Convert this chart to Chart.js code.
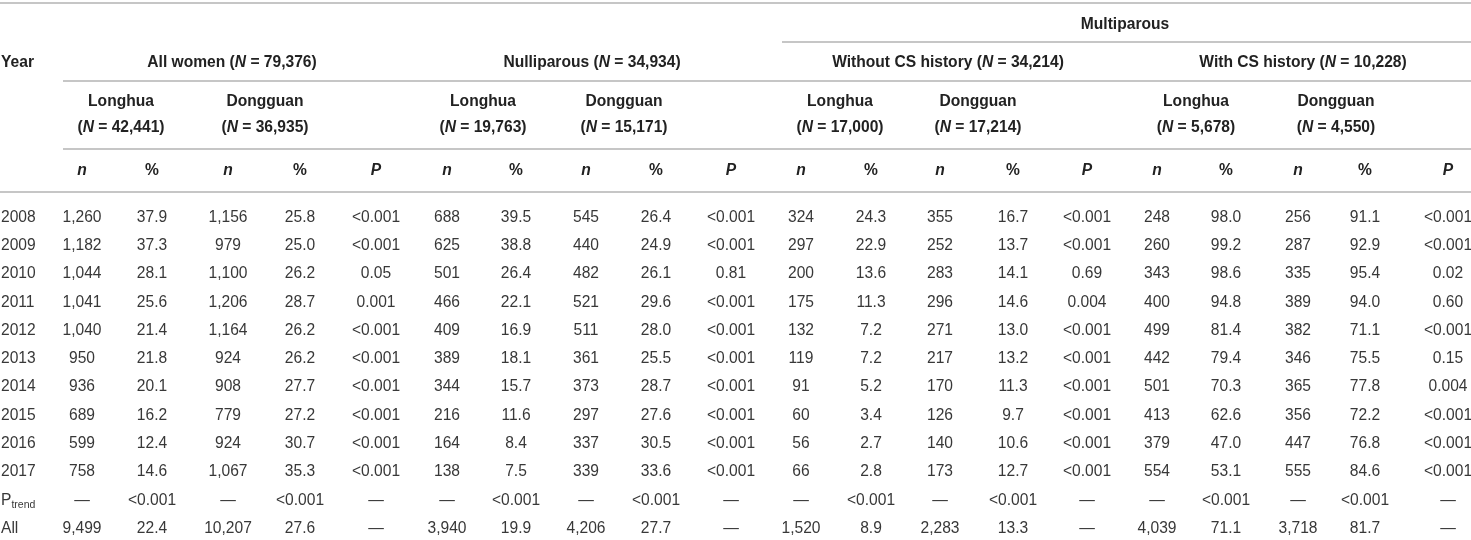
<!DOCTYPE html>
<html><head><meta charset="utf-8">
<script src="https://cdn.jsdelivr.net/npm/chart.js@4.4.1/dist/chart.umd.min.js"></script>
<style>html,body{margin:0;padding:0;background:#fff}#wrap{width:1471px;height:540px;position:relative}</style>
</head><body><div id="wrap"><canvas id="c"></canvas></div>
<script>
// ---------- DATA ----------
const rowLabels = ['2008','2009','2010','2011','2012','2013','2014','2015','2016','2017','Ptrend','All'];

const allLonghuaN   = ['1,260','1,182','1,044','1,041','1,040','950','936','689','599','758','—','9,499'];
const allLonghuaPct = ['37.9','37.3','28.1','25.6','21.4','21.8','20.1','16.2','12.4','14.6','<0.001','22.4'];
const allDongguanN  = ['1,156','979','1,100','1,206','1,164','924','908','779','924','1,067','—','10,207'];
const allDongguanPct= ['25.8','25.0','26.2','28.7','26.2','26.2','27.7','27.2','30.7','35.3','<0.001','27.6'];
const allP          = ['<0.001','<0.001','0.05','0.001','<0.001','<0.001','<0.001','<0.001','<0.001','<0.001','—','—'];

const nulLonghuaN   = ['688','625','501','466','409','389','344','216','164','138','—','3,940'];
const nulLonghuaPct = ['39.5','38.8','26.4','22.1','16.9','18.1','15.7','11.6','8.4','7.5','<0.001','19.9'];
const nulDongguanN  = ['545','440','482','521','511','361','373','297','337','339','—','4,206'];
const nulDongguanPct= ['26.4','24.9','26.1','29.6','28.0','25.5','28.7','27.6','30.5','33.6','<0.001','27.7'];
const nulP          = ['<0.001','<0.001','0.81','<0.001','<0.001','<0.001','<0.001','<0.001','<0.001','<0.001','—','—'];

const woLonghuaN    = ['324','297','200','175','132','119','91','60','56','66','—','1,520'];
const woLonghuaPct  = ['24.3','22.9','13.6','11.3','7.2','7.2','5.2','3.4','2.7','2.8','<0.001','8.9'];
const woDongguanN   = ['355','252','283','296','271','217','170','126','140','173','—','2,283'];
const woDongguanPct = ['16.7','13.7','14.1','14.6','13.0','13.2','11.3','9.7','10.6','12.7','<0.001','13.3'];
const woP           = ['<0.001','<0.001','0.69','0.004','<0.001','<0.001','<0.001','<0.001','<0.001','<0.001','—','—'];

const wLonghuaN     = ['248','260','343','400','499','442','501','413','379','554','—','4,039'];
const wLonghuaPct   = ['98.0','99.2','98.6','94.8','81.4','79.4','70.3','62.6','47.0','53.1','<0.001','71.1'];
const wDongguanN    = ['256','287','335','389','382','346','365','356','447','555','—','3,718'];
const wDongguanPct  = ['91.1','92.9','95.4','94.0','71.1','75.5','77.8','72.2','76.8','84.6','<0.001','81.7'];
const wP            = ['<0.001','<0.001','0.02','0.60','<0.001','0.15','0.004','<0.001','<0.001','<0.001','—','—'];

const yearHead   = 'Year';
const superTitle = 'Multiparous';
const groupTitles= ['All women','Nulliparous','Without CS history','With CS history'];
const groupN     = ['79,376','34,934','34,214','10,228'];
const siteNames  = ['Longhua','Dongguan'];
const siteN      = [['42,441','36,935'],['19,763','15,171'],['17,000','17,214'],['5,678','4,550']];
const colHeads   = ['n','%','n','%','P'];

const columns = [allLonghuaN,allLonghuaPct,allDongguanN,allDongguanPct,allP,
                 nulLonghuaN,nulLonghuaPct,nulDongguanN,nulDongguanPct,nulP,
                 woLonghuaN,woLonghuaPct,woDongguanN,woDongguanPct,woP,
                 wLonghuaN,wLonghuaPct,wDongguanN,wDongguanPct,wP];

// ---------- LAYOUT (positions / styles) ----------
const L = {
  colX: [82,152,228,300,376, 447,516,586,656,731, 801,871,940,1013,1087, 1157,1226,1298,1365,1448],
  labelX: 1,
  siteX: [[121,265],[483,624],[840,978],[1196,1336]],
  groupX: [232,592,948,1303],
  superX: 1125,
  // header rows in row units (row 0 = 2008)
  yTopLine: -7.53, ySuper: -6.82, ySuperLine: -6.15, yGroup: -5.45, yGroupLine: -4.77,
  ySite: -4.10, ySiteN: -3.18, ySiteLine: -2.37, yColHead: -1.63, yHeadLine: -0.85,
  superLineX0: 782, subLineX0: 63,
  font: "'Liberation Sans', Arial, Helvetica, sans-serif",
  size: 15.6,
  dataColor: '#383838', headColor: '#222', lineColor: '#c6c6c6'
};

const datasets = columns.map((vals, c) => ({
  label: 'col' + c,
  cellText: vals,
  data: vals.map((v, i) => ({x: L.colX[c], y: i})),
  pointRadius: 0, showLine: false
}));
datasets.push({
  label: 'rows', cellText: rowLabels, isRowLabel: true,
  data: rowLabels.map((v, i) => ({x: L.labelX, y: i})),
  pointRadius: 0, showLine: false
});

function fnt(o){ return (o.i?'italic ':'') + (o.b?'bold ':'') + (o.s||L.size) + 'px ' + L.font; }
function rich(ctx, segs, x, y, align, color){
  let w = 0;
  segs.forEach(s => { ctx.font = fnt(s); s.w = ctx.measureText(s.t).width; w += s.w; });
  let cx = align === 'left' ? x : x - w/2;
  ctx.fillStyle = color;
  ctx.textAlign = 'left';
  ctx.textBaseline = 'alphabetic';
  segs.forEach(s => { ctx.font = fnt(s); ctx.fillText(s.t, cx, y + (s.dy||0)); cx += s.w; });
}

const tablePlugin = {
  id: 'tablePlugin',
  afterDatasetsDraw(chart){
    const ctx = chart.ctx, xs = chart.scales.x, ys = chart.scales.y;
    const off = L.size * 0.36;
    ctx.save();
    // rules
    ctx.strokeStyle = L.lineColor; ctx.lineWidth = 2;
    const hl = (x0, x1, yv) => {
      const py = Math.round(ys.getPixelForValue(yv));
      ctx.beginPath(); ctx.moveTo(xs.getPixelForValue(x0), py); ctx.lineTo(xs.getPixelForValue(x1), py); ctx.stroke();
    };
    hl(0, 1471, L.yTopLine);
    hl(L.superLineX0, 1471, L.ySuperLine);
    hl(L.subLineX0, 1471, L.yGroupLine);
    hl(L.subLineX0, 1471, L.ySiteLine);
    hl(0, 1471, L.yHeadLine);

    const P = (xv, yv) => [xs.getPixelForValue(xv), ys.getPixelForValue(yv) + off];
    // headers
    let p = P(L.superX, L.ySuper);
    rich(ctx, [{t: superTitle, b: true}], p[0], p[1], 'center', L.headColor);
    p = P(L.labelX, L.yGroup);
    rich(ctx, [{t: yearHead, b: true}], p[0], p[1], 'left', L.headColor);
    groupTitles.forEach((g, k) => {
      const q = P(L.groupX[k], L.yGroup);
      rich(ctx, [{t: g + ' (', b: true}, {t: 'N', b: true, i: true}, {t: ' = ' + groupN[k] + ')', b: true}], q[0], q[1], 'center', L.headColor);
      siteNames.forEach((s, j) => {
        const a = P(L.siteX[k][j], L.ySite);
        rich(ctx, [{t: s, b: true}], a[0], a[1], 'center', L.headColor);
        const b = P(L.siteX[k][j], L.ySiteN);
        rich(ctx, [{t: '(', b: true}, {t: 'N', b: true, i: true}, {t: ' = ' + siteN[k][j] + ')', b: true}], b[0], b[1], 'center', L.headColor);
      });
    });
    L.colX.forEach((cx, c) => {
      const h = colHeads[c % 5];
      const q = P(cx, L.yColHead);
      rich(ctx, [{t: h, b: true, i: h !== '%'}], q[0], q[1], 'center', L.headColor);
    });

    // cells from dataset elements
    chart.data.datasets.forEach((ds, d) => {
      const meta = chart.getDatasetMeta(d);
      meta.data.forEach((el, i) => {
        const t = ds.cellText[i];
        const y = el.y + off;
        if (ds.isRowLabel) {
          if (t === 'Ptrend') {
            rich(ctx, [{t: 'P'}, {t: 'trend', s: 10.5, dy: 3}], el.x, y, 'left', L.dataColor);
          } else {
            rich(ctx, [{t: t}], el.x, y, 'left', L.dataColor);
          }
        } else {
          rich(ctx, [{t: t}], el.x, y, 'center', L.dataColor);
        }
      });
    });
    ctx.restore();
  }
};

new Chart(document.getElementById('c'), {
  type: 'scatter',
  data: { datasets },
  options: {
    responsive: true, maintainAspectRatio: false, animation: false,
    layout: { padding: 0 },
    plugins: { legend: { display: false }, tooltip: { enabled: false } },
    scales: {
      x: { type: 'linear', min: 0, max: 1471, display: false },
      y: { type: 'linear', min: -7.633, max: 11.449, reverse: true, display: false }
    }
  },
  plugins: [tablePlugin]
});
</script>
</body></html>
